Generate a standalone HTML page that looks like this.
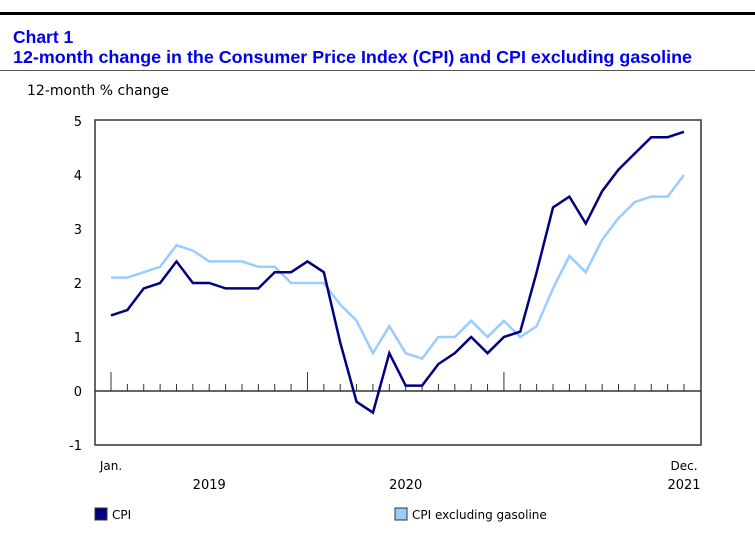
<!DOCTYPE html>
<html><head><meta charset="utf-8"><style>
body{margin:0;width:755px;height:533px;background:#fff;font-family:"Liberation Sans",Arial,sans-serif;overflow:hidden}
svg{position:absolute;left:0;top:0}
</style></head><body>
<svg width="755" height="533">
<rect x="0" y="12" width="755" height="3" fill="#000"/>
<text x="13" y="43" font-size="17.5" font-weight="bold" fill="#0000ee" font-family="Liberation Sans, sans-serif">Chart 1</text>
<text x="13" y="63" font-size="17.9" font-weight="bold" fill="#0000ee" font-family="Liberation Sans, sans-serif">12-month change in the Consumer Price Index (CPI) and CPI excluding gasoline</text>
<rect x="0" y="70" width="755" height="1" fill="#555"/>
<text x="27" y="95" font-size="14" fill="#000" font-family="DejaVu Sans, sans-serif">12-month % change</text>
<g id="plot"></g>
<rect x="95" y="120" width="606" height="325" fill="none" stroke="#333" stroke-width="1.5"/>
<rect x="95" y="508" width="12" height="12" fill="#000080" stroke="#333"/>
<text x="112" y="519" font-size="12" font-family="DejaVu Sans, sans-serif">CPI</text>
<rect x="395" y="508" width="12" height="12" fill="#99ccff" stroke="#333"/>
<text x="412" y="519" font-size="12" font-family="DejaVu Sans, sans-serif">CPI excluding gasoline</text>
</svg>
<script>
const yTicks=[5,4,3,2,1,0,-1];
const years=["2019","2020"];
const cpi=[1.4,1.5,1.9,2.0,2.4,2.0,2.0,1.9,1.9,1.9,2.2,2.2,2.4,2.2,0.9,-0.2,-0.4,0.7,0.1,0.1,0.5,0.7,1.0,0.7,1.0,1.1,2.2,3.4,3.6,3.1,3.7,4.1,4.4,4.7,4.7,4.8];
const cpiExGas=[2.1,2.1,2.2,2.3,2.7,2.6,2.4,2.4,2.4,2.3,2.3,2.0,2.0,2.0,1.6,1.3,0.7,1.2,0.7,0.6,1.0,1.0,1.3,1.0,1.3,1.0,1.2,1.9,2.5,2.2,2.8,3.2,3.5,3.6,3.6,4.0];
const NS="http://www.w3.org/2000/svg";
const g=document.getElementById('plot');
const y=v=>391-54*v;
const x=i=>111+i*(684-111)/35;
function mk(t,a){const e=document.createElementNS(NS,t);for(const k in a)e.setAttribute(k,a[k]);g.appendChild(e);return e;}
yTicks.forEach(v=>{
 const t=mk('text',{x:82,y:y(v)+5,'font-size':13,'text-anchor':'end','font-family':'DejaVu Sans, sans-serif'});
 t.textContent=v;
 
 
});
const z=mk('line',{x1:95,x2:701,y1:y(0),y2:y(0),stroke:'#333','stroke-width':1.5});


for(let i=0;i<cpi.length;i++){
 const major=i%12===0;
 const l=mk('line',{x1:x(i),x2:x(i),y1:y(0)-(major?19:7),y2:y(0),stroke:'#333','stroke-width':1});
 
 
}
years.forEach((yr,k)=>{
 const t=mk('text',{x:x(k*12+6),y:489,'font-size':13,'text-anchor':'middle','font-family':'DejaVu Sans, sans-serif'});
 t.textContent=yr;
 
 
});
const j=mk('text',{x:x(0),y:470,'font-size':12,'text-anchor':'middle','font-family':'DejaVu Sans, sans-serif'});j.textContent='Jan.';


const d=mk('text',{x:x(35),y:470,'font-size':12,'text-anchor':'middle','font-family':'DejaVu Sans, sans-serif'});d.textContent='Dec.';


const d2=mk('text',{x:x(35),y:489,'font-size':13,'text-anchor':'middle','font-family':'DejaVu Sans, sans-serif'});d2.textContent='2021';


function line(arr,col,name){
 const p=mk('polyline',{points:arr.map((v,i)=>x(i)+','+y(v)).join(' '),fill:'none',stroke:col,'stroke-width':2.5,'stroke-linejoin':'miter'});
 
 
}
line(cpiExGas,'#99ccff','line-cpi-ex-gasoline');
line(cpi,'#000080','line-cpi');
</script>
</body></html>
